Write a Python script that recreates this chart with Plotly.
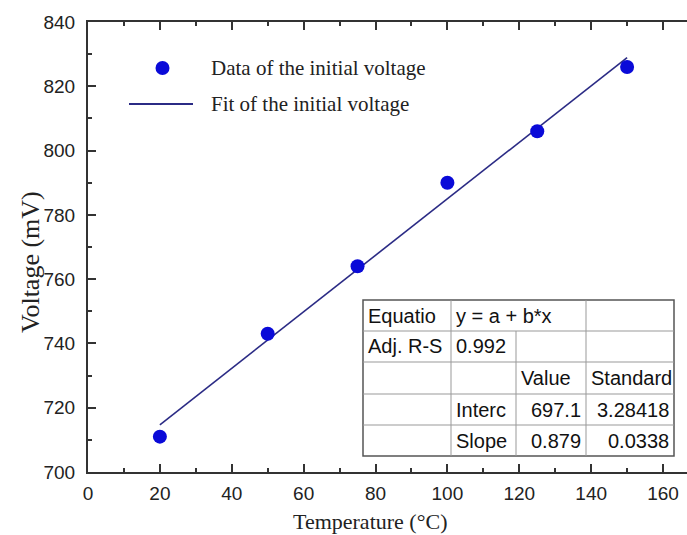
import plotly.graph_objects as go

# Data
temperature = [20, 50, 75, 100, 125, 150]
voltage = [711, 743, 764, 790, 806, 826]
fit_intercept = 697.1
fit_slope = 0.879
fit_x = [20, 150]
fit_y = [fit_intercept + fit_slope * x for x in fit_x]

legend_labels = ["Data of the initial voltage", "Fit of the initial voltage"]

table_rows = [
    ["Equatio", "y = a + b*x", "", ""],
    ["Adj. R-S", "0.992", "", ""],
    ["", "", "Value", "Standard"],
    ["", "Interc", "697.1", "3.28418"],
    ["", "Slope", "0.879", "0.0338"],
]

W, H = 687, 535
L, R, T, B = 88, 0, 22, 63
PW, PH = W - L - R, H - T - B

def px(x):
    return (x - L) / PW

def py(y):
    return (H - B - y) / PH

fig = go.Figure()
fig.add_trace(go.Scatter(x=fit_x, y=fit_y, mode="lines",
                         line=dict(color="#2b2b85", width=1.6),
                         showlegend=False, hoverinfo="skip"))
fig.add_trace(go.Scatter(x=temperature, y=voltage, mode="markers",
                         marker=dict(color="#0a0ad8", size=14),
                         showlegend=False))

shapes = []
annotations = []

# Manual legend
shapes.append(dict(type="circle", xref="paper", yref="paper",
                   x0=px(155.5), x1=px(169.5), y0=py(75), y1=py(61),
                   fillcolor="#0a0ad8", line=dict(width=0)))
shapes.append(dict(type="line", xref="paper", yref="paper",
                   x0=px(129), x1=px(193), y0=py(104), y1=py(104),
                   line=dict(color="#2b2b85", width=1.8)))
annotations.append(dict(xref="paper", yref="paper", x=px(209), y=py(68),
                        text=legend_labels[0], showarrow=False,
                        xanchor="left", yanchor="middle",
                        font=dict(family="Liberation Serif", size=21, color="#222")))
annotations.append(dict(xref="paper", yref="paper", x=px(209), y=py(104),
                        text=legend_labels[1], showarrow=False,
                        xanchor="left", yanchor="middle",
                        font=dict(family="Liberation Serif", size=21, color="#222")))

# Table
col_x = [363, 451, 516, 586, 674]
row_y = [300, 331, 362, 394, 425, 456]
shapes.append(dict(type="rect", xref="paper", yref="paper",
                   x0=px(col_x[0]), x1=px(col_x[-1]), y0=py(row_y[-1]), y1=py(row_y[0]),
                   fillcolor="white", line=dict(color="#555", width=1.5), layer="above"))
for ry in row_y[1:-1]:
    shapes.append(dict(type="line", xref="paper", yref="paper",
                       x0=px(col_x[0]), x1=px(col_x[-1]), y0=py(ry), y1=py(ry),
                       line=dict(color="#999", width=1), layer="above"))
for i, cx in enumerate(col_x[1:-1], start=1):
    top = row_y[1] if i == 2 else row_y[0]
    shapes.append(dict(type="line", xref="paper", yref="paper",
                       x0=px(cx), x1=px(cx), y0=py(row_y[-1]), y1=py(top),
                       line=dict(color="#999", width=1), layer="above"))

right_aligned = {(3, 2), (3, 3), (4, 2), (4, 3)}
for r, row in enumerate(table_rows):
    yc = (row_y[r] + row_y[r + 1]) / 2
    for c, txt in enumerate(row):
        if not txt:
            continue
        if (r, c) in right_aligned:
            x, anchor = col_x[c + 1] - 3, "right"
        else:
            x, anchor = col_x[c] + 3, "left"
        annotations.append(dict(xref="paper", yref="paper", x=px(x), y=py(yc),
                                text=txt, showarrow=False, xanchor=anchor,
                                yanchor="middle",
                                font=dict(family="Liberation Sans", size=20, color="#111")))

# Axis titles
annotations.append(dict(xref="paper", yref="paper", x=px(370), y=py(521),
                        text="Temperature (°C)", showarrow=False,
                        xanchor="center", yanchor="middle",
                        font=dict(family="Liberation Serif", size=22, color="#222")))
annotations.append(dict(xref="paper", yref="paper", x=px(30), y=py(262),
                        text="Voltage (mV)", showarrow=False, textangle=-90,
                        xanchor="center", yanchor="middle",
                        font=dict(family="Liberation Serif", size=26, color="#222")))

axis_common = dict(showgrid=False, zeroline=False, showline=True,
                   linecolor="#333", linewidth=2, ticks="inside",
                   tickcolor="#333", tickwidth=2, ticklen=8,
                   tickfont=dict(family="Liberation Sans", size=19, color="#222"))

fig.update_layout(
    width=W, height=H,
    margin=dict(l=L, r=R, t=T, b=B),
    plot_bgcolor="white", paper_bgcolor="white",
    shapes=shapes, annotations=annotations,
    xaxis=dict(range=[0, PW / 3.594], dtick=20, tick0=0, mirror="allticks",
               ticklabelstandoff=3,
               minor=dict(dtick=10, ticks="inside", ticklen=4, tickcolor="#333", tickwidth=1.5),
               **axis_common),
    yaxis=dict(range=[700, 840], dtick=20, tick0=700,
               ticklabelstandoff=7,
               minor=dict(dtick=10, ticks="inside", ticklen=4, tickcolor="#333", tickwidth=1.5),
               **axis_common),
)

fig.write_html("out.html")
